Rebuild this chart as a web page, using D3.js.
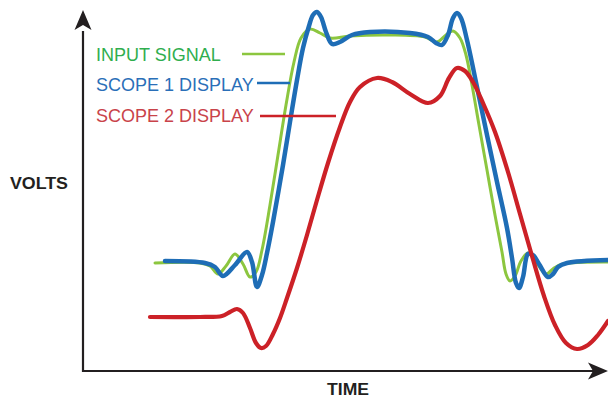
<!DOCTYPE html>
<html>
<head>
<meta charset="utf-8">
<script src="https://cdn.jsdelivr.net/npm/d3@7"></script>
<style>
  html, body { margin: 0; padding: 0; background: #ffffff; }
  svg { display: block; }
</style>
</head>
<body>
<script>
// ---- DATA (time units, volts units) ----
const seriesNames = ["INPUT SIGNAL", "SCOPE 1 DISPLAY", "SCOPE 2 DISPLAY"];

const inputTime  = [72,117,127,135,143,152,160,167,173,179,187,195,203,211,218,227,237,247,267,307,342,354,363,370,377,383,389,396,404,412,419,423,427,432,438,445,453,463,471,480,525];
const inputVolts = [108,108,105,97,105,117,107,94,99,121,166,216,266,309,333,342,338,333,335,336,334,329,336,340,333,316,286,246,201,156,119,97,90,95,110,118,109,97,103,107,109];

const scope1Time  = [82,122,132,140,152,164,169,174,179,184,190,200,207,214,220,226,230,234,238,243,249,257,269,287,327,345,353,359,365,370,374,378,384,394,404,414,424,429,433,436,440,445,450,456,465,470,475,484,525];
const scope1Volts = [110,108,104,95,106,119,109,84,96,118,149,206,249,291,323,345,356,359,354,339,327,329,336,339,338,334,328,326,336,353,358,353,331,284,236,189,143,113,88,83,94,117,116,107,94,97,104,108,111];

const scope2Time  = [67,117,139,147,154,160,167,173,178,183,190,197,204,214,224,234,245,257,267,277,294,309,327,345,357,366,374,382,390,400,412,425,437,449,461,472,483,494,505,515,525];
const scope2Volts = [54,54,55,59,62,58,43,28,23,25,37,53,73,103,136,171,208,244,269,284,293,289,277,268,275,293,303,300,289,268,239,199,157,115,75,46,28,22,26,36,50];

const yLabel = "VOLTS";
const xLabel = "TIME";

// ---- SETUP ----
const W = 608, H = 399;
const svg = d3.select("body").append("svg").attr("width", W).attr("height", H);

const x = d3.scaleLinear().domain([0, 525]).range([83, 608]);
const y = d3.scaleLinear().domain([0, 361]).range([371, 10]);

const colors = {
  input: "#8cc63f", scope1: "#1e6db6", scope2: "#cc2127",
  inputText: "#2fae4e", scope1Text: "#2a6fb8", scope2Text: "#c9434a"
};

const line = d3.line()
  .x(d => x(d[0])).y(d => y(d[1]))
  .curve(d3.curveCatmullRom.alpha(0.5));

const zip = (a, b) => a.map((v, i) => [v, b[i]]);

// ---- AXES ----
const axisColor = "#231f20";
svg.append("line")
  .attr("x1", x(0)).attr("x2", x(0))
  .attr("y1", y(0) + 1).attr("y2", y(340))
  .attr("stroke", axisColor).attr("stroke-width", 2.2);
svg.append("line")
  .attr("x1", x(0) - 1).attr("x2", x(510))
  .attr("y1", y(0)).attr("y2", y(0))
  .attr("stroke", axisColor).attr("stroke-width", 2.2);

// arrowheads (notched)
const topTip = [x(0), y(361)];
svg.append("path")
  .attr("d", `M${topTip[0]},${topTip[1]} L${topTip[0] + 8.5},${topTip[1] + 20} L${topTip[0]},${topTip[1] + 15} L${topTip[0] - 8.5},${topTip[1] + 20} Z`)
  .attr("fill", axisColor);
const rightTip = [x(525), y(0)];
svg.append("path")
  .attr("d", `M${rightTip[0]},${rightTip[1]} L${rightTip[0] - 20},${rightTip[1] - 8.5} L${rightTip[0] - 15},${rightTip[1]} L${rightTip[0] - 20},${rightTip[1] + 8.5} Z`)
  .attr("fill", axisColor);

// axis labels
svg.append("text")
  .attr("x", 10).attr("y", 189)
  .attr("font-family", "Liberation Sans, Arial, sans-serif")
  .attr("font-weight", "bold").attr("font-size", 17)
  .attr("fill", "#231f20")
  .attr("textLength", 58).attr("lengthAdjust", "spacingAndGlyphs")
  .text(yLabel);
svg.append("text")
  .attr("x", 327).attr("y", 395)
  .attr("font-family", "Liberation Sans, Arial, sans-serif")
  .attr("font-weight", "bold").attr("font-size", 16)
  .attr("fill", "#231f20")
  .attr("textLength", 42).attr("lengthAdjust", "spacingAndGlyphs")
  .text(xLabel);

// ---- CURVES ----
svg.append("path").datum(zip(inputTime, inputVolts))
  .attr("d", line).attr("fill", "none")
  .attr("stroke", colors.input).attr("stroke-width", 3)
  .attr("stroke-linejoin", "round").attr("stroke-linecap", "round");
svg.append("path").datum(zip(scope1Time, scope1Volts))
  .attr("d", line).attr("fill", "none")
  .attr("stroke", colors.scope1).attr("stroke-width", 4.5)
  .attr("stroke-linejoin", "round").attr("stroke-linecap", "round");
svg.append("path").datum(zip(scope2Time, scope2Volts))
  .attr("d", line).attr("fill", "none")
  .attr("stroke", colors.scope2).attr("stroke-width", 4.2)
  .attr("stroke-linejoin", "round").attr("stroke-linecap", "round");

// ---- LEGEND ----
const legend = [
  { name: seriesNames[0], color: colors.input, text: colors.inputText, ty: 61, ly: 54, x1: 242, x2: 285 },
  { name: seriesNames[1], color: colors.scope1, text: colors.scope1Text, ty: 91, ly: 83, x1: 257, x2: 290 },
  { name: seriesNames[2], color: colors.scope2, text: colors.scope2Text, ty: 122, ly: 116, x1: 260, x2: 336 }
];
legend.forEach(d => {
  svg.append("text")
    .attr("x", 96).attr("y", d.ty)
    .attr("font-family", "Liberation Sans, Arial, sans-serif")
    .attr("font-size", 18)
    .attr("fill", d.text)
    .text(d.name);
  svg.append("line")
    .attr("x1", d.x1).attr("x2", d.x2).attr("y1", d.ly).attr("y2", d.ly)
    .attr("stroke", d.color).attr("stroke-width", 2.5);
});
</script>
</body>
</html>
